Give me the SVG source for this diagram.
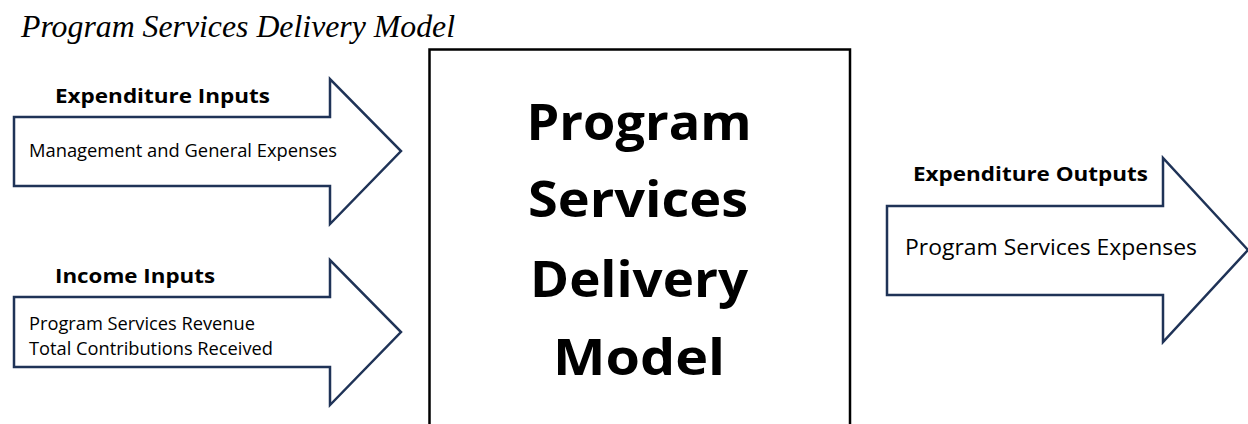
<svg xmlns="http://www.w3.org/2000/svg" width="1248" height="424" viewBox="0 0 1248 424">
  <style>
    .title { font-family: "Liberation Serif", "Times New Roman", serif; font-style: italic; font-size: 31px; fill: #000; }
    .arrow { fill: #fff; stroke: #1f3357; stroke-width: 2.5; stroke-linejoin: miter; }
    .box { fill: #fff; stroke: #000; stroke-width: 2.5; }
    .head { font-family: "Open Sans", Lato, sans-serif; font-weight: bold; font-size: 20px; fill: #000; }
    .body { font-family: "Open Sans", Lato, sans-serif; font-size: 19px; fill: #000; }
    .big { font-family: "Open Sans", Lato, sans-serif; font-weight: bold; font-size: 50px; fill: #000; text-anchor: middle; }
  </style>
  <rect width="1248" height="424" fill="#fff"/>

  <text class="title" x="21" y="37" textLength="434" lengthAdjust="spacingAndGlyphs">Program Services Delivery Model</text>

  <g id="connectors">
    <!-- expenditure inputs arrow -->
    <g id="expenditure-inputs">
      <path class="arrow" d="M14,117 H330 V79 L401,151 L330,224 V186 H14 Z"/>
      <text class="head" x="55" y="103" textLength="215" lengthAdjust="spacingAndGlyphs">Expenditure Inputs</text>
      <text class="body" x="29" y="157" textLength="308" lengthAdjust="spacingAndGlyphs">Management and General Expenses</text>
    </g>
    <!-- income inputs arrow -->
    <g id="income-inputs">
      <path class="arrow" d="M14,297 H330 V260 L401,332 L330,405 V367 H14 Z"/>
      <text class="head" x="55" y="283" textLength="160" lengthAdjust="spacingAndGlyphs">Income Inputs</text>
      <text class="body" x="29" y="330" textLength="226" lengthAdjust="spacingAndGlyphs">Program Services Revenue</text>
      <text class="body" x="29" y="355" textLength="244" lengthAdjust="spacingAndGlyphs">Total Contributions Received</text>
    </g>
    <!-- expenditure outputs arrow -->
    <g id="expenditure-outputs">
      <path class="arrow" d="M887,206 H1163 V158 L1248,250 L1163,342 V295 H887 Z"/>
      <text class="head" x="913" y="181" textLength="235" lengthAdjust="spacingAndGlyphs">Expenditure Outputs</text>
      <text class="body" x="905" y="255" style="font-size:22px" textLength="292" lengthAdjust="spacingAndGlyphs">Program Services Expenses</text>
    </g>
  </g>

  <g id="delivery-model">
    <rect class="box" x="429.5" y="49.5" width="420.5" height="390"/>
    <text class="big" x="639" y="140" textLength="225" lengthAdjust="spacingAndGlyphs">Program</text>
    <text class="big" x="638" y="217" textLength="220" lengthAdjust="spacingAndGlyphs">Services</text>
    <text class="big" x="639" y="297" textLength="218" lengthAdjust="spacingAndGlyphs">Delivery</text>
    <text class="big" x="639" y="375" textLength="172" lengthAdjust="spacingAndGlyphs">Model</text>
  </g>
</svg>
